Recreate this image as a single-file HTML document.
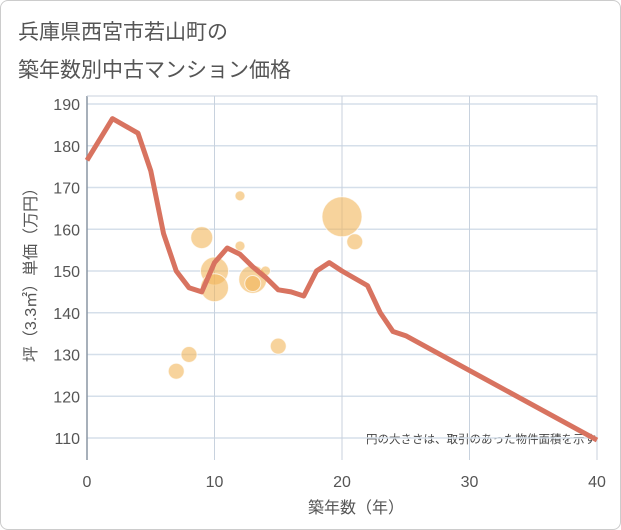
<!DOCTYPE html>
<html><head><meta charset="utf-8"><style>
body{margin:0;background:#fff;font-family:"Liberation Sans","Noto Sans CJK JP",sans-serif;}
#wrap{position:relative;width:619px;height:528px;border:1px solid #ccc;border-radius:8px;overflow:hidden;}
</style></head><body>
<div id="wrap">
<svg id="c" width="621" height="530" style="position:absolute;left:-1px;top:-1px">
<text x="18" y="39" font-size="21" fill="#555">兵庫県西宮市若山町の</text>
<text x="18" y="77" font-size="21" fill="#555">築年数別中古マンション価格</text>
<text x="596" y="443" font-size="11.5" fill="#444" text-anchor="end">円の大きさは、取引のあった物件面積を示す</text>
<text x="356" y="513" font-size="16" fill="#555" text-anchor="middle">築年数（年）</text>
<text transform="translate(36,271) rotate(-90)" font-size="16" fill="#555" text-anchor="middle">坪（3.3㎡）単価（万円）</text>
</svg>
</div>
<script>
const xTicks=[0,10,20,30,40];
const yTicks=[110,120,130,140,150,160,170,180,190];
const lineX=[0,2,4,5,6,7,8,9,10,11,12,13,14,15,16,17,18,19,20,22,23,24,25,40];
const lineY=[176.5,186.5,183,174,159,150,146,145,152,155.5,154,151,148.5,145.5,145,144,150,152,150,146.5,140,135.5,134.5,109.5];
const bubX=[7,8,9,10,10,12,12,13,13,14,15,20,21];
const bubY=[126,130,158,150,146,168,156,148,147,150,132,163,157];
const bubS=[8,8,11,14,14,5,5,14,8,5,8,20,8];
const svg=document.getElementById('c');const NS='http://www.w3.org/2000/svg';
const X0=87,X1=597,Y0=438,Y1=104;
const sx=v=>X0+(v-0)/40*(X1-X0), sy=v=>Y0-(v-110)/80*(Y0-Y1);
function mk(t,a){const e=document.createElementNS(NS,t);for(const k in a)e.setAttribute(k,a[k]);svg.appendChild(e);return e;}
yTicks.forEach(v=>{const l=mk('line',{x1:X0,x2:X1,y1:sy(v),y2:sy(v),stroke:'#d5dfea','stroke-width':1.5});


const t=mk('text',{x:80,y:sy(v)+6,'font-size':16,fill:'#555','text-anchor':'end'});t.textContent=v;

});
xTicks.forEach(v=>{const l=mk('line',{x1:sx(v),x2:sx(v),y1:Y1-8,y2:Y0+22,stroke:v==0?'#8a96a3':'#c8d2de','stroke-width':v==0?1.5:1});


const t=mk('text',{x:sx(v),y:487,'font-size':16,fill:'#555','text-anchor':'middle'});t.textContent=v;

});
const plotTop=mk('line',{x1:X0,x2:X1,y1:Y1-8,y2:Y1-8,stroke:'#c8d2de'});


bubX.forEach((v,i)=>{const c=mk('circle',{cx:sx(v),cy:sy(bubY[i]),r:bubS[i],fill:'rgba(242,182,90,0.6)',stroke:'rgba(255,255,255,0.7)','stroke-width':1});

});
const p=mk('polyline',{points:lineX.map((v,i)=>sx(v)+','+sy(lineY[i])).join(' '),fill:'none',stroke:'#d87360','stroke-width':5,'stroke-linejoin':'round'});


</script>
</body></html>
